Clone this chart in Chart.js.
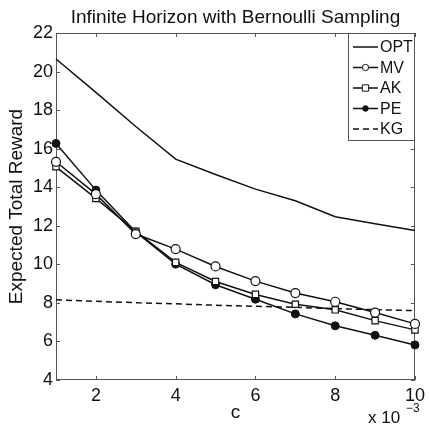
<!DOCTYPE html>
<html>
<head>
<meta charset="utf-8">
<script src="https://cdn.jsdelivr.net/npm/chart.js@4.4.0/dist/chart.umd.min.js"></script>
<style>
  html, body { margin: 0; padding: 0; background: #fff; }
  #wrap { width: 430px; height: 427px; }
</style>
</head>
<body>
<div id="wrap"><canvas id="chart" width="430" height="427"></canvas></div>
<script>
    // c values (x 10^-3)
    const cValues = [1, 2, 3, 4, 5, 6, 7, 8, 9, 10];
    const xTicks = [2, 4, 6, 8, 10];
    const yTicks = [4, 6, 8, 10, 12, 14, 16, 18, 20, 22];

    const optValues = [20.65, 18.92, 17.15, 15.46, 14.66, 13.90, 13.30, 12.47, 12.11, 11.75];
    const mvValues  = [15.32, 13.64, 11.57, 10.79, 9.89, 9.13, 8.51, 8.06, 7.50, 6.91];
    const akValues  = [15.06, 13.42, 11.71, 10.10, 9.11, 8.44, 7.93, 7.64, 7.08, 6.60];
    const peValues  = [16.27, 13.85, 11.68, 10.01, 8.94, 8.19, 7.43, 6.81, 6.32, 5.82];
    const kgValues  = [8.16, 8.08, 8.01, 7.95, 7.88, 7.82, 7.77, 7.70, 7.65, 7.60];

    const FONT = '"Liberation Sans", Arial, Helvetica, sans-serif';
    const INK = '#111';

    function pts(values) {
        return cValues.map((c, i) => ({ x: c, y: values[i] }));
    }

    // Box, inside ticks, title, labels, legend (MATLAB look)
    const matlabPlugin = {
        id: 'matlab',
        beforeDatasetsDraw(chart) {
            const ctx = chart.ctx;
            const a = chart.chartArea;
            const xs = chart.scales.x;
            const ys = chart.scales.y;
            ctx.save();

            ctx.strokeStyle = '#555';
            ctx.lineWidth = 1;
            ctx.strokeRect(a.left + 0.5, a.top + 0.5, a.right - a.left - 1, a.bottom - a.top - 1);

            const tl = 4;
            ctx.beginPath();
            xTicks.forEach(v => {
                const px = Math.round(xs.getPixelForValue(v)) + 0.5;
                ctx.moveTo(px, a.bottom); ctx.lineTo(px, a.bottom - tl);
                ctx.moveTo(px, a.top); ctx.lineTo(px, a.top + tl);
            });
            yTicks.forEach(v => {
                const py = Math.round(ys.getPixelForValue(v)) + 0.5;
                ctx.moveTo(a.left, py); ctx.lineTo(a.left + tl, py);
                ctx.moveTo(a.right, py); ctx.lineTo(a.right - tl, py);
            });
            ctx.stroke();
            ctx.restore();
        },
        afterDraw(chart) {
            const ctx = chart.ctx;
            const a = chart.chartArea;
            ctx.save();

            // title
            ctx.fillStyle = INK;
            ctx.font = '19px ' + FONT;
            ctx.textAlign = 'center';
            ctx.textBaseline = 'alphabetic';
            ctx.fillText('Infinite Horizon with Bernoulli Sampling', (a.left + a.right) / 2, 23);

            // x label
            ctx.font = '19px ' + FONT;
            ctx.fillText('c', (a.left + a.right) / 2, 418);

            // exponent
            ctx.textAlign = 'left';
            ctx.font = '17px ' + FONT;
            ctx.fillText('x 10', 368, 423);
            ctx.font = '12px ' + FONT;
            ctx.fillText('\u22123', 406, 412);

            // y label
            ctx.save();
            ctx.translate(22, (a.top + a.bottom) / 2);
            ctx.rotate(-Math.PI / 2);
            ctx.textAlign = 'center';
            ctx.font = '19px ' + FONT;
            ctx.fillText('Expected Total Reward', 0, 0);
            ctx.restore();

            // legend
            const lx = 348, ly = a.top, lw = a.right - lx, lh = 108;
            ctx.fillStyle = '#fff';
            ctx.fillRect(lx, ly, lw, lh);
            ctx.strokeStyle = '#555';
            ctx.lineWidth = 1;
            ctx.strokeRect(lx + 0.5, ly + 0.5, lw - 1, lh - 1);
            chart.data.datasets.forEach((ds, i) => {
                const cy = ly + 14 + i * 20.5;
                ctx.strokeStyle = ds.borderColor;
                ctx.lineWidth = ds.borderWidth;
                ctx.setLineDash(ds.borderDash || []);
                ctx.beginPath();
                ctx.moveTo(353, cy);
                ctx.lineTo(378, cy);
                ctx.stroke();
                ctx.setLineDash([]);
                if (ds.pointRadius > 0) {
                    const r = ds.pointRadius * 0.7;
                    ctx.lineWidth = 1;
                    ctx.fillStyle = ds.pointBackgroundColor;
                    ctx.strokeStyle = ds.pointBorderColor;
                    ctx.beginPath();
                    if (ds.pointStyle === 'rect') {
                        ctx.rect(365.5 - r, cy - r, 2 * r, 2 * r);
                    } else {
                        ctx.arc(365.5, cy, r, 0, Math.PI * 2);
                    }
                    ctx.fill();
                    ctx.stroke();
                }
                ctx.fillStyle = INK;
                ctx.font = '16px ' + FONT;
                ctx.textAlign = 'left';
                ctx.textBaseline = 'middle';
                ctx.fillText(ds.label, 380, cy + 1);
            });

            ctx.restore();
        }
    };

    function series(label, values, extra) {
        return Object.assign({
            label: label,
            data: pts(values),
            borderColor: INK,
            backgroundColor: INK,
            borderWidth: 1.5,
            pointRadius: 0,
            tension: 0,
            fill: false,
            clip: false
        }, extra);
    }

    const ctx = document.getElementById('chart').getContext('2d');
    new Chart(ctx, {
        type: 'line',
        data: {
            datasets: [
                series('OPT', optValues, {}),
                series('MV', mvValues, {
                    pointRadius: 4.5, pointStyle: 'circle',
                    pointBackgroundColor: '#fff', pointBorderColor: INK, pointBorderWidth: 1.2
                }),
                series('AK', akValues, {
                    pointRadius: 4.5, pointStyle: 'rect',
                    pointBackgroundColor: '#fff', pointBorderColor: INK, pointBorderWidth: 1.2
                }),
                series('PE', peValues, {
                    pointRadius: 4, pointStyle: 'circle',
                    pointBackgroundColor: INK, pointBorderColor: INK, pointBorderWidth: 1
                }),
                series('KG', kgValues, { borderDash: [6, 4] })
            ]
        },
        options: {
            responsive: false,
            animation: false,
            layout: { padding: { top: 33, right: 12, left: 0, bottom: 0 } },
            plugins: {
                legend: { display: false },
                tooltip: { enabled: false }
            },
            scales: {
                x: {
                    type: 'linear',
                    min: 1,
                    max: 10,
                    afterBuildTicks: (scale) => { scale.ticks = xTicks.map(v => ({ value: v })); },
                    afterFit: (scale) => { scale.height = 47; },
                    grid: { display: false, drawTicks: false },
                    border: { display: false },
                    ticks: {
                        padding: 5,
                        color: INK,
                        font: { family: FONT, size: 18 }
                    }
                },
                y: {
                    type: 'linear',
                    min: 4,
                    max: 22,
                    afterBuildTicks: (scale) => { scale.ticks = yTicks.map(v => ({ value: v })); },
                    afterFit: (scale) => { scale.width = 56; },
                    grid: { display: false, drawTicks: false },
                    border: { display: false },
                    ticks: {
                        padding: 3,
                        color: INK,
                        font: { family: FONT, size: 18 }
                    }
                }
            }
        },
        plugins: [matlabPlugin]
    });
</script>
</body>
</html>
